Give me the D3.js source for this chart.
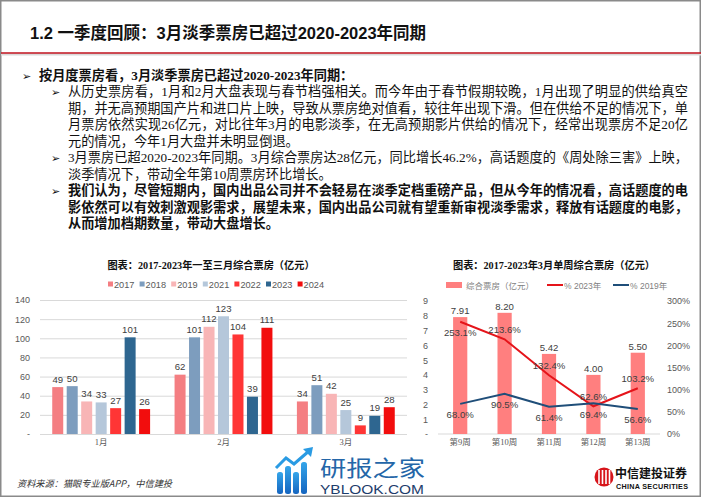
<!DOCTYPE html>
<html><head><meta charset="utf-8">
<script src="https://cdn.jsdelivr.net/npm/d3@7"></script>
<style>body{margin:0;background:#fff}svg{display:block}</style>
</head><body>
<svg id="c" width="702" height="498"></svg>
<script>
// ---------- data ----------
const pageTitle = "1.2 一季度回顾：3月淡季票房已超过2020-2023年同期";
const bodyLines = [
  "按月度票房看，3月淡季票房已超过2020-2023年同期：",
  "从历史票房看，1月和2月大盘表现与春节档强相关。而今年由于春节假期较晚，1月出现了明显的供给真空",
  "期，并无高预期国产片和进口片上映，导致从票房绝对值看，较往年出现下滑。但在供给不足的情况下，单",
  "月票房依然实现26亿元，对比往年3月的电影淡季，在无高预期影片供给的情况下，经常出现票房不足20亿",
  "元的情况，今年1月大盘并未明显倒退。",
  "3月票房已超2020-2023年同期。3月综合票房达28亿元，同比增长46.2%，高话题度的《周处除三害》上映，",
  "淡季情况下，带动全年第10周票房环比增长。",
  "我们认为，尽管短期内，国内出品公司并不会轻易在淡季定档重磅产品，但从今年的情况看，高话题度的电",
  "影依然可以有效刺激观影需求，展望未来，国内出品公司就有望重新审视淡季需求，释放有话题度的电影，",
  "从而增加档期数量，带动大盘增长。"
];
const bodyLevel  = [0,1,1,1,1,1,1,1,1,1];
const bodyBullet = [1,1,0,0,0,1,0,1,0,0];
const bodyBold   = [1,0,0,0,0,0,0,1,1,1];
const bodyJustify= [0,1,1,1,0,1,0,1,1,0];

const chart1Title = "图表：2017-2023年一至三月综合票房（亿元）";
const months = ["1月","2月","3月"];
const years  = ["2017","2018","2019","2021","2022","2023","2024"];
const s2017 = [49, 62, 34];
const s2018 = [50, 101, 51];
const s2019 = [34, 112, 42];
const s2021 = [33, 123, 25];
const s2022 = [27, 104, 9];
const s2023 = [101, 39, 19];
const s2024 = [26, 111, 28];
const yearSeries = [s2017, s2018, s2019, s2021, s2022, s2023, s2024];
const chart1Ticks = [0,20,40,60,80,100,120,140];

const chart2Title = "图表：2017-2023年3月单周综合票房（亿元）";
const weeks = ["第9周","第10周","第11周","第12周","第13周"];
const weeklyBox = [7.91, 8.20, 5.42, 4.00, 5.50];
const pct2023 = [253.1, 213.6, 132.4, 62.6, 103.2];
const pct2019 = [68.0, 90.5, 61.4, 69.4, 56.6];
const chart2LeftTicks = [0,1,2,3,4,5,6,7,8,9];
const chart2RightTicks = [0,50,100,150,200,250,300];
const legend2 = ["综合票房（亿元）","% 2023年","% 2019年"];

const sourceText = "资料来源：猫眼专业版APP，中信建投";

// ---------- styles ----------
const yearColors = ["#F47E82","#7D9DBE","#F8B5B6","#B5C7DA","#FF3535","#2E6690","#F20D0D"];
const SANS = "'Liberation Sans','Noto Sans CJK SC',sans-serif";
const SERIF = "'Liberation Serif','Noto Sans CJK SC',serif";
const CJK = "'Noto Sans CJK SC',sans-serif";

const svg = d3.select("#c");

// frame
svg.append("rect").attr("x",0.75).attr("y",0.75).attr("width",699.5).attr("height",495.5)
  .attr("fill","none").attr("stroke","#8a8a8a").attr("stroke-width",1.5);

// title
svg.append("text").attr("x",30).attr("y",39).text(pageTitle)
  .attr("font-family",SANS).attr("font-weight","bold").attr("font-size",16.5).attr("fill","#111");
svg.append("line").attr("x1",1).attr("x2",701).attr("y1",54.5).attr("y2",54.5)
  .attr("stroke","#d9d9d9").attr("stroke-width",2);
svg.append("line").attr("x1",1).attr("x2",701).attr("y1",53).attr("y2",53)
  .attr("stroke","#C0121E").attr("stroke-width",1.6);

// body text
const lineY0 = 79.5, lineGap = 16.55;
bodyLines.forEach((t,i)=>{
  const y = lineY0 + i*lineGap;
  const tx = bodyLevel[i]===0 ? 39 : 68;
  if (bodyBullet[i]) {
    svg.append("text").attr("x", bodyLevel[i]===0 ? 22 : 51).attr("y", y)
      .text("➢").attr("font-family","'DejaVu Sans'").attr("font-size",11).attr("fill","#111");
  }
  const el = svg.append("text").attr("x",tx).attr("y",y).text(t)
    .attr("font-family",SERIF).attr("font-size",13.2).attr("fill","#111")
    .attr("font-weight", bodyBold[i] ? "bold" : "normal");
  if (bodyJustify[i]) el.attr("textLength", 688-tx).attr("lengthAdjust","spacing");
});

// ---------- chart 1 ----------
const c1 = svg.append("g");
const x0 = d3.scaleBand().domain(months).range([40,407]).paddingInner(0.2).paddingOuter(0.1);
const x1 = d3.scaleBand().domain(years).range([0,x0.bandwidth()]).paddingInner(0.24).paddingOuter(0);
const y1 = d3.scaleLinear().domain([0,140]).range([434,300]);

c1.append("text").attr("x",211).attr("y",269).attr("text-anchor","middle").text(chart1Title)
  .attr("font-family",SERIF).attr("font-weight","bold").attr("font-size",10.2).attr("fill","#111");

// legend 1
const leg1 = c1.append("g");
years.forEach((yr,i)=>{
  const lx = 108 + i*31.6;
  leg1.append("rect").attr("x",lx).attr("y",281.5).attr("width",5).attr("height",5).attr("fill",yearColors[i]);
  leg1.append("text").attr("x",lx+6).attr("y",287.5).text(yr)
    .attr("font-family",SANS).attr("font-size",9.2).attr("fill","#595959");
});

const ax1 = c1.append("g").attr("transform","translate(40,0)")
  .call(d3.axisLeft(y1).tickValues(chart1Ticks).tickSize(-367).tickPadding(10)
    .tickFormat(d=> d===0 ? "-" : d));
ax1.select(".domain").remove();
ax1.selectAll("line").attr("stroke","#d9d9d9").attr("stroke-width",1);
ax1.selectAll("text").attr("font-family",SANS).attr("font-size",9).attr("fill","#595959");

const gx1 = c1.append("g").attr("transform","translate(0,434)")
  .call(d3.axisBottom(x0).tickSize(0).tickPadding(5));
gx1.select(".domain").remove();
gx1.selectAll("text").attr("font-family",SERIF).attr("font-size",8.5).attr("fill","#595959");

const grp = c1.selectAll(".grp").data(months).enter().append("g")
  .attr("transform",m=>`translate(${x0(m)},0)`);
years.forEach((yr,k)=>{
  grp.append("rect")
    .attr("x",x1(yr)).attr("width",x1.bandwidth())
    .attr("y",(m,j)=>y1(yearSeries[k][j]))
    .attr("height",(m,j)=>y1(0)-y1(yearSeries[k][j]))
    .attr("fill",yearColors[k]);
  grp.append("text")
    .attr("x",x1(yr)+x1.bandwidth()/2).attr("y",(m,j)=>y1(yearSeries[k][j])-4.5)
    .attr("text-anchor","middle").text((m,j)=>yearSeries[k][j])
    .attr("font-family",SANS).attr("font-size",9.6).attr("fill","#404040");
});

// ---------- chart 2 ----------
const c2 = svg.append("g");
const xw = d3.scaleBand().domain(weeks).range([438,660]).paddingInner(0.68).paddingOuter(0.34);
const yl = d3.scaleLinear().domain([0,9]).range([434,301]);
const yr = d3.scaleLinear().domain([0,300]).range([434,301]);

c2.append("text").attr("x",554).attr("y",269).attr("text-anchor","middle").text(chart2Title)
  .attr("font-family",SERIF).attr("font-weight","bold").attr("font-size",10.2).attr("fill","#111");

// legend 2
c2.append("rect").attr("x",446).attr("y",282).attr("width",16).attr("height",6).attr("fill","#FF7F7F");
c2.append("text").attr("x",466).attr("y",288.5).text(legend2[0])
  .attr("font-family",CJK).attr("font-size",8.5).attr("fill","#7f7f7f");
c2.append("line").attr("x1",547).attr("x2",563).attr("y1",285).attr("y2",285).attr("stroke","#E5141A").attr("stroke-width",2);
c2.append("text").attr("x",564).attr("y",288.5).text(legend2[1])
  .attr("font-family",SANS).attr("font-size",8.5).attr("fill","#7f7f7f");
c2.append("line").attr("x1",613).attr("x2",629).attr("y1",285).attr("y2",285).attr("stroke","#1F4E79").attr("stroke-width",2);
c2.append("text").attr("x",630).attr("y",288.5).text(legend2[2])
  .attr("font-family",SANS).attr("font-size",8.5).attr("fill","#7f7f7f");

const axl = c2.append("g").attr("transform","translate(438,0)")
  .call(d3.axisLeft(yl).tickValues(chart2LeftTicks).tickSize(0).tickPadding(10).tickFormat(d=>d===0?"-":d));
axl.select(".domain").remove();
axl.selectAll("text").attr("font-family",SANS).attr("font-size",9).attr("fill","#595959");

const axr = c2.append("g").attr("transform","translate(660,0)")
  .call(d3.axisRight(yr).tickValues(chart2RightTicks).tickSize(0).tickPadding(7).tickFormat(d=>d+"%"));
axr.select(".domain").remove();
axr.selectAll("text").attr("font-family",SANS).attr("font-size",9).attr("fill","#595959");

c2.append("line").attr("x1",438).attr("x2",660).attr("y1",434).attr("y2",434).attr("stroke","#d9d9d9");

const gx2 = c2.append("g").attr("transform","translate(0,434)")
  .call(d3.axisBottom(xw).tickSize(0).tickPadding(5));
gx2.select(".domain").remove();
gx2.selectAll("text").attr("font-family",SERIF).attr("font-size",8.5).attr("fill","#595959");

c2.selectAll(".wb").data(weeks).enter().append("rect")
  .attr("x",w=>xw(w)).attr("width",xw.bandwidth())
  .attr("y",(w,i)=>yl(weeklyBox[i])).attr("height",(w,i)=>yl(0)-yl(weeklyBox[i]))
  .attr("fill","#FF7F7F");
c2.selectAll(".wl").data(weeks).enter().append("text")
  .attr("x",w=>xw(w)+xw.bandwidth()/2).attr("y",(w,i)=>yl(weeklyBox[i])-3)
  .attr("text-anchor","middle").text((w,i)=>weeklyBox[i].toFixed(2))
  .attr("font-family",SANS).attr("font-size",9.6).attr("fill","#404040");

const cx = w=>xw(w)+xw.bandwidth()/2;
const line23 = d3.line().x((d,i)=>cx(weeks[i])).y(d=>yr(d));
c2.append("path").attr("d",line23(pct2023)).attr("fill","none").attr("stroke","#E5141A").attr("stroke-width",2);
c2.append("path").attr("d",line23(pct2019)).attr("fill","none").attr("stroke","#1F4E79").attr("stroke-width",2);

c2.selectAll(".l23").data(pct2023).enter().append("text")
  .attr("x",(d,i)=>cx(weeks[i])).attr("y",(d,i)=>yr(d)+(i===0?14.5:-6.5))
  .attr("text-anchor","middle").text(d=>d.toFixed(1)+"%")
  .attr("font-family",SANS).attr("font-size",9.6).attr("fill","#404040");
c2.selectAll(".l19").data(pct2019).enter().append("text")
  .attr("x",(d,i)=>cx(weeks[i])).attr("y",d=>yr(d)+14.5)
  .attr("text-anchor","middle").text(d=>d.toFixed(1)+"%")
  .attr("font-family",SANS).attr("font-size",9.6).attr("fill","#404040");

// ---------- footer ----------
svg.append("text").attr("x",17).attr("y",487).text(sourceText)
  .attr("font-family",CJK).attr("font-style","italic").attr("font-size",9.2).attr("fill","#333")
  .attr("textLength",155).attr("lengthAdjust","spacing");

// watermark
const wm = svg.append("g");
const grad = svg.append("defs").append("linearGradient").attr("id","wg").attr("x1","0").attr("y1","1").attr("x2","0").attr("y2","0");
grad.append("stop").attr("offset","0").attr("stop-color","#1565c0");
grad.append("stop").attr("offset","1").attr("stop-color","#35a6ea");
[[277,472],[285,466],[293,472],[301,462]].forEach(([bx,by])=>{
  wm.append("rect").attr("x",bx).attr("y",by).attr("width",6).attr("height",494-by).attr("rx",2.5).attr("fill","url(#wg)");
});
wm.append("path").attr("d","M276,468 L286,458 L294,464 L309,451").attr("fill","none").attr("stroke","#2a9be3").attr("stroke-width",3);
wm.append("path").attr("d","M303,449 L313,447 L311,457 Z").attr("fill","#2a9be3");
wm.append("text").attr("x",320).attr("y",476).text("研报之家")
  .attr("font-family",CJK).attr("font-size",22).attr("fill","#2466a8").attr("textLength",105).attr("lengthAdjust","spacingAndGlyphs");
wm.append("text").attr("x",320).attr("y",494).text("YBLOOK.COM")
  .attr("font-family",SANS).attr("font-size",13.5).attr("fill","#1d3d6b").attr("textLength",104).attr("lengthAdjust","spacingAndGlyphs");

// China Securities logo
const lg = svg.append("g");
lg.append("circle").attr("cx",604).attr("cy",477).attr("r",9.5).attr("fill","#D7141A");
[599,602.5,606,609.5].forEach(lx=>lg.append("rect").attr("x",lx-0.8).attr("y",470).attr("width",1.6).attr("height",14).attr("fill","#fff"));
lg.append("text").attr("x",615).attr("y",478).text("中信建投证券")
  .attr("font-family",CJK).attr("font-weight","bold").attr("font-size",12).attr("fill","#111");
lg.append("text").attr("x",616).attr("y",489).text("CHINA SECURITIES")
  .attr("font-family",SANS).attr("font-weight","bold").attr("font-size",7.2).attr("fill","#111").attr("textLength",72);
</script>
</body></html>
